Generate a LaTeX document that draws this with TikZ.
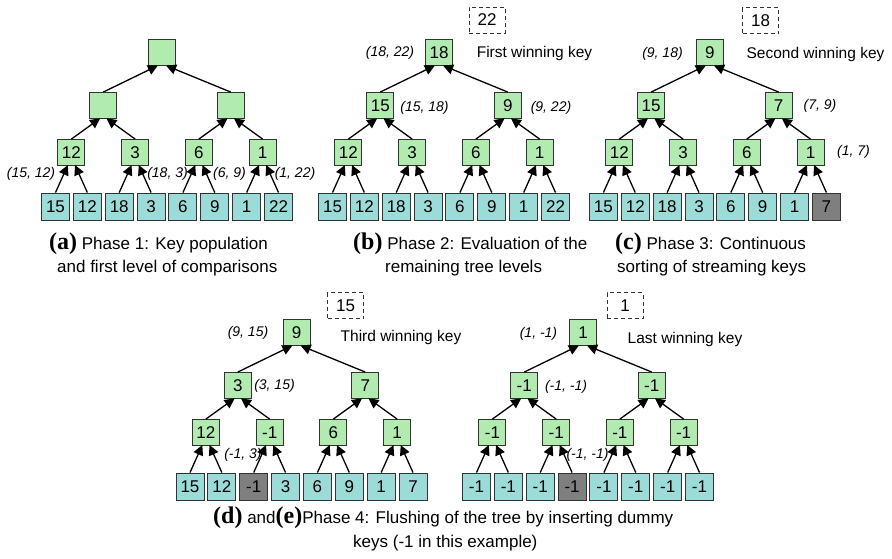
\documentclass[tikz,border=0pt]{standalone}
\usepackage{fontspec}
\setmainfont{Liberation Sans}
\newfontfamily\capfont{Liberation Serif}
\usetikzlibrary{arrows.meta}

\definecolor{winfill}{HTML}{B2EBB0}
\definecolor{leaffill}{HTML}{9CDCD8}
\definecolor{dummyfill}{HTML}{7F7F7F}

\newcommand{\keyfont}{\fontsize{17}{20}\selectfont}
\newcommand{\pairfont}{\fontsize{14}{16}\selectfont\itshape}
\newcommand{\notefont}{\fontsize{15.5}{18}\selectfont}
\newcommand{\capsize}{\fontsize{17}{20}\selectfont}
\newcommand{\subletter}[1]{{\capfont\bfseries\fontsize{24}{26}\selectfont(#1)}}

\tikzset{
  winbox/.style={draw=black!80, fill=winfill, line width=0.9pt, minimum width=27pt, minimum height=26pt, inner sep=0pt, font=\keyfont},
  keybox/.style={draw=black!80, fill=leaffill, line width=0.9pt, minimum width=28pt, minimum height=27pt, inner sep=0pt, font=\keyfont},
  dummybox/.style={keybox, fill=dummyfill},
  outbox/.style={draw=black!80, dashed, dash pattern=on 4pt off 3pt, line width=0.9pt, minimum width=36pt, minimum height=26pt, inner sep=0pt, font=\keyfont},
  pair/.style={font=\pairfont, inner sep=0pt},
  note/.style={font=\notefont, inner sep=0pt},
  caption/.style={font=\capsize, inner sep=0pt, anchor=base west},
  arr/.style={-{Triangle[length=10pt,width=10pt]}, line width=1.3pt, shorten >=-1pt},
}

% #1 name, #2 x of first leaf, #3 y of root, #4 root, #5 second level, #6 first level, #7 leaves
\newcommand{\keytree}[7]{%
  \node[winbox] (#1-r) at ({#2+3.5*31.86-5},#3) {#4};
  \foreach \v [count=\i from 0] in {#5}
    \node[winbox] (#1-m\i) at ({#2+(4*\i+1.5)*31.86},{#3+53}) {\v};
  \foreach \v [count=\i from 0] in {#6}
    \node[winbox] (#1-n\i) at ({#2+(2*\i+0.5)*31.86},{#3+100}) {\v};
  \foreach \v/\s [count=\i from 0] in {#7}
    \node[\s] (#1-k\i) at ({#2+\i*31.86},{#3+154}) {\v};
  \draw[arr] (#1-m0.north) -- ([xshift=-5pt]#1-r.south);
  \draw[arr] (#1-m1.north) -- ([xshift=5pt]#1-r.south);
  \foreach \i in {0,...,3} {
    \pgfmathtruncatemacro\p{\i/2}
    \pgfmathsetmacro\dx{mod(\i,2)==0 ? -4 : 4}
    \draw[arr] (#1-n\i.north) -- ([xshift=\dx pt]#1-m\p.south);
  }
  \foreach \i in {0,...,7} {
    \pgfmathtruncatemacro\p{\i/2}
    \pgfmathsetmacro\dx{mod(\i,2)==0 ? -4 : 4}
    \draw[arr] (#1-k\i.north) -- ([xshift=\dx pt]#1-n\p.south);
  }
}

\begin{document}
\begin{tikzpicture}[x=1pt, y=-1pt]
  \useasboundingbox (0,0) rectangle (892,558);

  % (a) key population
  \keytree{a}{55.5}{52.5}{}{{},{}}{12,3,6,1}
    {15/keybox,12/keybox,18/keybox,3/keybox,6/keybox,9/keybox,1/keybox,22/keybox}
  \node[pair] (a-p0) at (31,174) {(15, 12)};
  \node[pair] (a-p1) at (167.5,174) {(18, 3)};
  \node[pair] (a-p2) at (229.5,174) {(6, 9)};
  \node[pair] (a-p3) at (295,174) {(1, 22)};
  \node[caption] (a-cap1) at (49,249) {\subletter{a} Phase 1: Key population};
  \node[caption] (a-cap2) at (57,272) {and first level of comparisons};

  % (b) remaining levels
  \keytree{b}{332.5}{52.5}{18}{15,9}{12,3,6,1}
    {15/keybox,12/keybox,18/keybox,3/keybox,6/keybox,9/keybox,1/keybox,22/keybox}
  \node[outbox] (b-out) at (487,20) {22};
  \node[pair] (b-p0) at (390,53) {(18, 22)};
  \node[note] (b-win) at (534.5,53) {First winning key};
  \node[pair] (b-p1) at (424.5,108) {(15, 18)};
  \node[pair] (b-p2) at (551,108) {(9, 22)};
  \node[caption] (b-cap1) at (353,249) {\subletter{b} Phase 2: Evaluation of the};
  \node[caption] (b-cap2) at (385,272) {remaining tree levels};

  % (c) streaming keys
  \keytree{c}{603.4}{52.5}{9}{15,7}{12,3,6,1}
    {15/keybox,12/keybox,18/keybox,3/keybox,6/keybox,9/keybox,1/keybox,7/dummybox}
  \node[outbox] (c-out) at (760.5,20.5) {18};
  \node[pair] (c-p0) at (662.5,54) {(9, 18)};
  \node[note] (c-win) at (815.5,54) {Second winning key};
  \node[pair] (c-p1) at (820,106) {(7, 9)};
  \node[pair] (c-p2) at (853.5,152) {(1, 7)};
  \node[caption] (c-cap1) at (615,249) {\subletter{c} Phase 3: Continuous};
  \node[caption] (c-cap2) at (617,272) {sorting of streaming keys};

  % (d) and (e) flushing
  \keytree{d}{190}{332.5}{9}{3,7}{12,-1,6,1}
    {15/keybox,12/keybox,-1/dummybox,3/keybox,6/keybox,9/keybox,1/keybox,7/keybox}
  \node[outbox] (d-out) at (345.5,305.5) {15};
  \node[pair] (d-p0) at (248,333) {(9, 15)};
  \node[note] (d-win) at (401,337) {Third winning key};
  \node[pair] (d-p1) at (274.5,386) {(3, 15)};
  \node[pair] (d-p2) at (243,455) {(-1, 3)};

  \keytree{e}{476.5}{332.5}{1}{-1,-1}{-1,-1,-1,-1}
    {-1/keybox,-1/keybox,-1/keybox,-1/dummybox,-1/keybox,-1/keybox,-1/keybox,-1/keybox}
  \node[outbox] (e-out) at (625,305.5) {1};
  \node[pair] (e-p0) at (538.5,334) {(1, -1)};
  \node[note] (e-win) at (685,339) {Last winning key};
  \node[pair] (e-p1) at (566,387) {(-1, -1)};
  \node[pair] (e-p2) at (587.5,455) {(-1, -1)};

  \node[caption] (de-cap1) at (213,523)
    {\subletter{d} and\subletter{e}Phase 4: Flushing of the tree by inserting dummy};
  \node[caption] (de-cap2) at (353,547) {keys (-1 in this example)};
\end{tikzpicture}
\end{document}
